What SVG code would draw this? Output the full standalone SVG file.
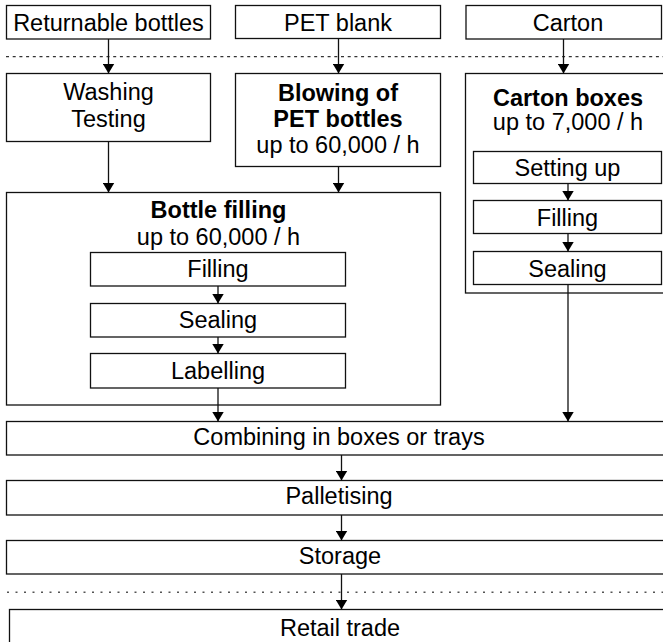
<svg xmlns="http://www.w3.org/2000/svg" width="663" height="642" viewBox="0 0 663 642">
  <style>
    .box { fill: #fff; stroke: #111; stroke-width: 1.3; }
    .t { font-family: "Liberation Sans", Arial, sans-serif; font-size: 23.5px; fill: #000; text-anchor: middle; }
    .b { font-weight: bold; }
    .edge { stroke: #111; stroke-width: 1.3; fill: none; marker-end: url(#arrow); }
    .sep1 { stroke: #333; stroke-width: 1.3; stroke-dasharray: 3 3.7; }
    .sep2 { stroke: #555; stroke-width: 1.6; stroke-dasharray: 2 6.5; }
  </style>
  <defs>
    <marker id="arrow" markerUnits="userSpaceOnUse" markerWidth="10" markerHeight="12" refX="10" refY="6" orient="auto">
      <path d="M0,0 L10,6 L0,12 z" fill="#000"/>
    </marker>
  </defs>
  <rect width="663" height="642" fill="#fff"/>

  <!-- section separators -->
  <line class="sep1" x1="6" y1="56.7" x2="663" y2="56.7"/>
  <line class="sep2" x1="7" y1="592.3" x2="663" y2="592.3"/>

  <!-- supply row -->
  <g id="returnable">
    <rect class="box" x="6.5" y="5.5" width="204" height="33.5"/>
    <text class="t" x="108.5" y="30.5">Returnable bottles</text>
  </g>
  <g id="pet-blank">
    <rect class="box" x="235.5" y="5.5" width="205" height="33"/>
    <text class="t" x="338" y="30.5">PET blank</text>
  </g>
  <g id="carton">
    <rect class="box" x="466" y="5.5" width="195.5" height="33.5"/>
    <text class="t" x="568" y="30.5">Carton</text>
  </g>

  <!-- preparation -->
  <g id="washing">
    <rect class="box" x="6.5" y="73.5" width="204" height="68"/>
    <text class="t" x="108.5" y="100">Washing</text>
    <text class="t" x="108.5" y="127">Testing</text>
  </g>
  <g id="blowing">
    <rect class="box" x="235.5" y="73.5" width="205" height="93"/>
    <text class="t b" x="338" y="100.5">Blowing of</text>
    <text class="t b" x="338" y="126.5">PET bottles</text>
    <text class="t" x="338" y="153">up to 60,000 / h</text>
  </g>

  <!-- carton boxes line -->
  <g id="carton-boxes">
    <rect class="box" x="465.5" y="73.5" width="200" height="219.5"/>
    <text class="t b" x="568" y="105.5">Carton boxes</text>
    <text class="t" x="568" y="130">up to 7,000 / h</text>
    <g id="setting-up">
      <rect class="box" x="473.5" y="151.5" width="188" height="32"/>
      <text class="t" x="567.5" y="175.5">Setting up</text>
    </g>
    <g id="carton-filling">
      <rect class="box" x="473.5" y="200.5" width="188" height="33"/>
      <text class="t" x="567.5" y="225.5">Filling</text>
    </g>
    <g id="carton-sealing">
      <rect class="box" x="473.5" y="251.5" width="188" height="33"/>
      <text class="t" x="567.5" y="276.5">Sealing</text>
    </g>
  </g>

  <!-- bottle filling line -->
  <g id="bottle-filling">
    <rect class="box" x="6.5" y="192.5" width="434" height="212.5"/>
    <text class="t b" x="218.5" y="217.5">Bottle filling</text>
    <text class="t" x="218.5" y="245">up to 60,000 / h</text>
    <g id="filling">
      <rect class="box" x="90.5" y="252.5" width="255" height="33.5"/>
      <text class="t" x="218" y="277">Filling</text>
    </g>
    <g id="sealing">
      <rect class="box" x="90.5" y="303.5" width="255" height="33.5"/>
      <text class="t" x="218" y="328">Sealing</text>
    </g>
    <g id="labelling">
      <rect class="box" x="90.5" y="353.5" width="255" height="34.5"/>
      <text class="t" x="218" y="378.5">Labelling</text>
    </g>
  </g>

  <!-- packaging and distribution -->
  <g id="combining">
    <rect class="box" x="6.5" y="421.5" width="660" height="33.5"/>
    <text class="t" x="339" y="444.5">Combining in boxes or trays</text>
  </g>
  <g id="palletising">
    <rect class="box" x="6.5" y="480.5" width="660" height="34.5"/>
    <text class="t" x="339" y="503.5">Palletising</text>
  </g>
  <g id="storage">
    <rect class="box" x="6.5" y="540.5" width="660" height="33.5"/>
    <text class="t" x="340" y="563.5">Storage</text>
  </g>
  <g id="retail">
    <rect class="box" x="9.5" y="609.5" width="660" height="40"/>
    <text class="t" x="340" y="636">Retail trade</text>
  </g>

  <!-- connectors -->
  <g id="connectors">
    <line class="edge" x1="108.5" y1="39" x2="108.5" y2="73.5"/>
    <line class="edge" x1="338.5" y1="38.5" x2="338.5" y2="73.5"/>
    <line class="edge" x1="563.5" y1="39" x2="563.5" y2="73.5"/>
    <line class="edge" x1="108.5" y1="141.5" x2="108.5" y2="192.5"/>
    <line class="edge" x1="338.5" y1="166.5" x2="338.5" y2="192.5"/>
    <line class="edge" x1="218" y1="286" x2="218" y2="303.5"/>
    <line class="edge" x1="218" y1="337" x2="218" y2="353.5"/>
    <line class="edge" x1="218" y1="388" x2="218" y2="421.5"/>
    <line class="edge" x1="568" y1="183.5" x2="568" y2="200.5"/>
    <line class="edge" x1="568" y1="233.5" x2="568" y2="251.5"/>
    <line class="edge" x1="568" y1="284.5" x2="568" y2="421.5"/>
    <line class="edge" x1="341.5" y1="455" x2="341.5" y2="480.5"/>
    <line class="edge" x1="341.5" y1="515" x2="341.5" y2="540.5"/>
    <line class="edge" x1="341.5" y1="574" x2="341.5" y2="609.5"/>
  </g>
</svg>
